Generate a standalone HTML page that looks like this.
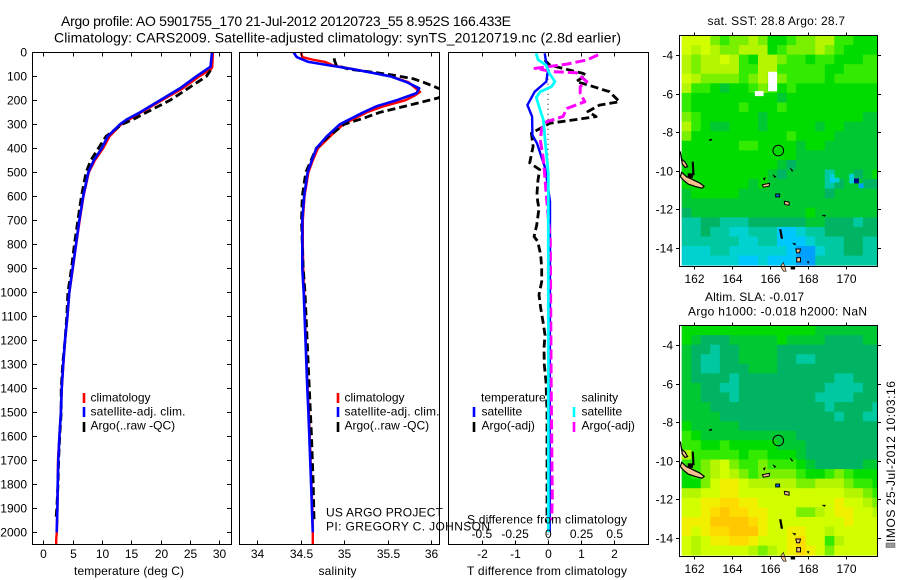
<!DOCTYPE html>
<html lang="en">
<head>
<meta charset="utf-8">
<title>Argo profile chart</title>
<style>
html,body{margin:0;padding:0;background:#fff;width:900px;height:580px;overflow:hidden}
svg{display:block}
text{font-family:"Liberation Sans",sans-serif;font-size:12px;fill:#000}
</style>
</head>
<body>
<svg id="chart" width="900" height="580" viewBox="0 0 900 580" xmlns="http://www.w3.org/2000/svg">
<defs>
<clipPath id="clip-t"><rect x="32.5" y="52.5" width="199" height="492"/></clipPath>
<clipPath id="clip-s"><rect x="239.5" y="52.5" width="200" height="492"/></clipPath>
<clipPath id="clip-d"><rect x="448.5" y="52.5" width="200" height="492"/></clipPath>
</defs>
<text x="61" y="26" style="font-size:14px" textLength="450">Argo profile: AO 5901755_170 21-Jul-2012 20120723_55 8.952S 166.433E</text>
<text x="54" y="42.5" style="font-size:14px" textLength="567">Climatology: CARS2009. Satellite-adjusted climatology: synTS_20120719.nc (2.8d earlier)</text>
<text x="707.5" y="25" textLength="137.5">sat. SST: 28.8 Argo: 28.7</text>
<text x="705" y="301" textLength="99">Altim. SLA: -0.017</text>
<text x="688" y="315.5" textLength="179">Argo h1000: -0.018 h2000: NaN</text>
<text transform="translate(895 542) rotate(-90)" textLength="161">IMOS 25-Jul-2012 10:03:16</text>
<rect x="886" y="543" width="9" height="4.5" fill="#999" stroke="#555" stroke-width="0.5"/>
<g id="maps"></g>
<g id="panels"></g>
<text x="74" y="575" textLength="110">temperature (deg C)</text>
<text x="318.5" y="575" textLength="38">salinity</text>
<text x="467" y="575" textLength="160">T difference from climatology</text>
<text x="467" y="523.5" textLength="160">S difference from climatology</text>
<text x="326" y="516.5" textLength="117">US ARGO PROJECT</text>
<text x="326" y="530.5" textLength="164">PI: GREGORY C. JOHNSON</text>
</svg>
<script>
// ---- profile data: depth in dbar ----
var depthTicks = [0,100,200,300,400,500,600,700,800,900,1000,1100,1200,1300,1400,1500,1600,1700,1800,1900,2000];
var tempTicks = [0,5,10,15,20,25,30];
var salTicks = [34,34.5,35,35.5,36];
var tDiffTicks = [-2,-1,0,1,2];
var sDiffTicks = [-0.5,-0.25,0,0.25,0.5];
var sDiffTickLabels = ['-0.5','-0.25','0','0.25','0.5'];

var tempClimDepth = [0,60,70,100,150,200,250,300,350,400,450,500,600,700,800,900,1000,1100,1200,1300,1400,1500,1600,1700,1800,1900,2000,2030,2050];
var tempClim = [28.9,28.8,28.6,26.6,23.8,20.2,16.7,13.3,11.3,10.2,8.8,7.75,6.85,6.2,5.6,5.05,4.45,4.12,3.72,3.42,3.15,3.0,2.75,2.5,2.45,2.4,2.3,2.2,2.2];
var tempSatDepth = [0,60,100,150,200,250,280,300,350,400,450,500,600,700,800,900,1000,1100,1200,1300,1400,1500,1600,1700,1800,1900,2000];
var tempSat = [28.75,28.5,26.1,23.3,19.9,16.5,14.2,13.07,11.0,9.95,8.6,7.67,6.8,6.14,5.57,5.0,4.43,4.1,3.7,3.4,3.13,3.0,2.75,2.55,2.45,2.4,2.28];
var tempArgoDepth = [75,100,150,200,250,280,300,350,400,450,500,600,700,800,900,1000,1100,1200,1300,1400,1500,1600,1700,1800,1900,1950];
var tempArgo = [28.5,27.8,24.7,21.6,17.6,15.3,13.4,10.7,9.4,8.1,7.3,6.5,5.9,5.3,4.8,4.2,4.0,3.7,3.3,3.05,3.05,2.8,2.6,2.5,2.3,2.15];

var salClimDepth = [0,20,30,40,55,70,100,125,150,165,180,200,225,250,300,350,400,450,500,600,700,800,900,1000,1400,1500,1600,1700,1800,1900,2000,2050];
var salClim = [34.505,34.52,34.63,34.78,34.875,35.1,35.53,35.74,35.82,35.87,35.81,35.7,35.45,35.26,34.99,34.84,34.7,34.64,34.59,34.545,34.525,34.525,34.53,34.54,34.58,34.595,34.605,34.615,34.625,34.635,34.64,34.64];
var salSatDepth = [0,20,40,55,70,100,125,150,170,200,225,250,300,350,400,450,500,600,700,800,900,1000,1400,1500,1600,1700,1800,1900,2000];
var salSat = [34.42,34.455,34.59,34.84,35.1,35.53,35.72,35.86,35.83,35.6,35.37,35.22,34.95,34.8,34.68,34.63,34.58,34.54,34.52,34.52,34.52,34.535,34.577,34.59,34.6,34.61,34.62,34.63,34.64];
var salArgoDepth = [25,35,55,70,85,95,110,125,150,165,190,220,250,275,300,350,400,450,500,600,700,800,900,1000,1400,1600,1800,1960];
var salArgo = [34.885,34.89,34.91,35.05,35.37,35.56,35.79,35.91,36.08,36.2,36.08,35.75,35.41,35.22,35.0,34.82,34.68,34.62,34.56,34.52,34.51,34.52,34.53,34.55,34.6,34.625,34.645,34.655];

var tDiffSatDepth = [4,46,74,122,164,220,268,345,379,435,476,532,622,782,2000];
var tDiffSat = [-0.1,-0.05,0,-0.05,-0.4,-0.62,-0.48,-0.47,-0.33,-0.2,-0.1,-0.03,0.06,0.06,0.05];
var tDiffArgoDepth = [32,53,67,88,95,122,136,164,206,220,247,268,282,296,337,392,461,489,532,587,622,650,720,768,788,844,899,955,1011,1066,1122,1178,1233,1302,1372,1500,1900,1960];
var tDiffArgo = [-0.1,0.05,0.45,1.05,1.15,0.85,1.2,1.85,2.15,1.55,1.2,1.45,0.75,0.05,-0.5,-0.45,-0.55,-0.25,-0.3,-0.33,-0.31,-0.27,-0.34,-0.42,-0.31,-0.22,-0.19,-0.19,-0.27,-0.22,-0.15,-0.09,-0.12,-0.11,-0.06,-0.03,-0.03,-0.03];
var sDiffSatDepth = [4,32,53,88,122,143,164,188,226,282,365,435,504,782,2000];
var sDiffSat = [-0.0925,-0.075,-0.018,0.008,0.05,0.025,-0.06,-0.09,-0.07,-0.037,-0.025,-0.012,0,0,0];
var sDiffArgoDepth = [11,32,49,67,81,85,122,143,171,206,234,268,289,317,365,435,491,615,782,1400,1860,1950];
var sDiffArgo = [0.375,0.29,0.14,-0.1,0.04,0.21,0.29,0.24,0.24,0.275,0.14,0.11,-0.012,-0.05,-0.06,-0.04,-0.03,-0.012,0.015,0.022,0.03,0.025];
var zeroLineDepth = [110,2050];

// ---- map data: colour levels per half-degree cell (north to south) ----
var mapLonTicks = [162,164,166,168,170];
var mapLatTicks = [-4,-6,-8,-10,-12,-14];
var floatPosition = [166.433,-8.952];
var sstLevels = [
[12,12,12,10,9,10,10,11,10,8,8,9,10,10,11,11,9,9,8,8,8],
[12,11,12,11,10,10,11,11,11,8,9,10,10,10,11,10,9,8,8,8,8],
[11,10,11,11,12,11,9,8,11,11,10,9,9,8,9,9,8,8,8,9,9],
[11,10,11,11,11,11,9,9,11,11,9,9,9,9,9,8,8,9,9,9,9],
[12,11,10,10,10,10,9,10,11,10,10,9,9,9,9,8,9,9,9,9,9],
[11,9,9,8,7,8,8,9,10,9,8,9,8,8,8,8,8,8,8,8,8],
[9,8,8,8,8,8,8,8,8,8,7,8,8,8,8,8,8,8,8,8,8],
[9,8,8,8,8,8,9,8,8,8,9,8,8,8,8,8,8,8,8,8,8],
[10,9,8,8,8,8,8,8,7,8,8,8,8,8,8,8,8,8,8,7,7],
[11,9,8,7,7,8,8,8,7,8,8,8,8,8,7,8,8,7,7,7,7],
[10,8,8,8,8,8,8,8,8,8,8,9,8,8,8,8,7,7,7,7,7],
[8,8,8,8,8,8,9,9,8,8,8,8,7,8,8,7,7,7,7,7,7],
[8,8,8,8,8,8,8,8,8,8,8,8,7,7,7,7,7,7,7,7,7],
[8,8,8,8,8,8,8,8,8,8,7,6,7,7,7,7,7,7,7,7,7],
[8,8,8,8,8,8,8,8,8,7,6,7,7,7,7,5,7,7,6,7,8],
[8,8,8,8,8,8,8,7,8,7,7,7,7,7,7,5,6,7,7,6,6],
[7,8,8,8,8,8,7,7,7,7,7,7,7,7,7,6,7,7,7,7,7],
[7,7,7,7,7,7,7,7,7,7,7,7,7,7,7,7,7,7,7,7,7],
[6,7,7,7,7,7,7,7,7,7,7,7,7,8,7,7,7,7,7,7,7],
[5,5,6,6,5,5,5,6,6,6,6,6,6,7,7,6,6,6,5,6,6],
[5,5,6,5,5,4,4,5,5,5,3,3,4,5,5,6,6,6,6,6,6],
[5,5,5,5,5,5,4,4,5,5,3,3,3,4,5,5,5,6,6,5,5],
[4,4,4,5,5,4,4,4,4,4,4,3,2,2,4,5,5,6,6,5,5],
[4,4,4,4,4,4,3,3,4,3,3,3,2,2,5,5,5,5,5,5,5]
];
var slaLevels = [
[8,8,8,8,8,8,8,8,8,8,8,8,8,8,7,7,7,7,7,7,7],
[8,7,6,6,6,7,7,7,7,7,8,7,7,7,7,6,6,6,6,7,7],
[7,6,6,5,6,6,7,7,7,7,6,6,6,6,6,6,6,6,6,6,6],
[7,6,5,5,6,6,7,7,7,7,6,6,5,5,6,6,6,6,6,6,6],
[7,6,5,5,6,6,6,7,7,7,6,6,6,6,6,6,6,6,6,6,6],
[7,6,6,6,6,5,6,6,6,6,6,6,6,6,6,6,5,5,6,6,6],
[7,7,6,6,5,5,6,6,6,6,6,6,6,6,6,5,5,5,5,6,6],
[7,7,6,6,6,5,6,6,6,6,6,6,6,6,5,5,5,5,6,6,6],
[7,7,7,6,6,6,6,6,6,6,6,6,6,6,6,5,6,6,6,6,5],
[7,7,7,7,6,6,6,6,6,6,6,6,6,6,6,6,5,6,6,5,5],
[8,7,7,7,7,7,6,6,6,6,6,6,6,6,6,6,6,6,6,6,6],
[9,8,7,7,7,7,7,7,7,7,7,7,6,6,6,6,6,6,6,6,6],
[9,9,8,8,9,8,8,8,8,8,7,7,7,6,6,6,6,6,6,6,6],
[11,9,9,9,9,9,8,9,9,8,8,8,7,6,6,6,6,6,6,6,6],
[9,9,10,11,12,10,9,9,10,9,9,9,8,7,6,6,6,6,6,7,7],
[8,9,10,11,12,11,10,9,10,10,10,10,9,8,8,9,10,9,8,8,8],
[8,8,10,12,13,13,12,11,11,11,11,11,10,10,11,11,11,10,9,9,8],
[11,11,12,12,13,13,12,12,12,12,12,12,12,12,12,12,12,11,11,10,9],
[12,12,13,13,14,14,13,13,12,12,12,12,12,12,12,12,13,12,12,11,10],
[12,12,13,14,15,14,14,13,13,12,12,12,10,10,11,12,13,13,12,12,11],
[13,13,13,15,15,15,15,14,13,12,12,12,12,12,12,12,12,13,12,12,12],
[13,12,13,14,14,15,15,15,13,12,12,13,13,12,12,11,12,12,12,12,12],
[12,11,12,13,13,14,14,13,12,12,12,13,14,12,12,9,11,12,12,12,12],
[12,11,12,12,12,12,12,11,10,11,12,13,14,13,12,10,12,12,12,12,12]
];
// individual quarter-degree anomalies in the SST field: lon, lat, level
var sstSpotLon = [170.15,170.15,170.4,170.65,169.14,169.14,169.38];
var sstSpotLat = [-10.15,-10.4,-10.4,-10.65,-10.36,-10.15,-10.36];
var sstSpotLevel = [4,4,0,2,3,4,4];
// quarter-degree cells with no SST: lon, lat
var sstMissingLon = [165.9,166.13,165.9,166.13,165.9,166.13,165.9,166.13,165.2,165.42];
var sstMissingLat = [-4.87,-4.87,-5.12,-5.12,-5.37,-5.37,-5.62,-5.62,-5.87,-5.87];

var palette = ['#000080','#0064ff','#00a0ff','#00c8ff','#00d2d2','#00c8a0','#00b464','#00c832','#00dc00','#32eb00','#78f000','#b4f500','#d2ff00','#f0f000','#ffdc00','#ffc800'];

var NS = 'http://www.w3.org/2000/svg';
function node(parent, tag, attrs) {
  var el = document.createElementNS(NS, tag);
  for (var k in attrs) el.setAttribute(k, attrs[k]);
  parent.appendChild(el);
  return el;
}
function label(parent, x, y, str, name, anchor) {
  var el = node(parent, 'text', {x: x, y: y, 'text-anchor': anchor || 'middle'});
  
  
  el.textContent = str;
  return el;
}
function tick(parent, x1, y1, x2, y2, name) {
  var el = node(parent, 'line', {x1: x1, y1: y1, x2: x2, y2: y2, stroke: '#000', 'stroke-width': 1});
  
  
  return el;
}
function legendBar(parent, x, y1, y2, color, name) {
  var el = node(parent, 'line', {x1: x, y1: y1, x2: x, y2: y2, stroke: color, 'stroke-width': 2.6});
  
  
  return el;
}
function yDepth(d) { return 52.3 + d * 0.24; }

var panels = document.getElementById('panels');
var top0 = 52.5, bot0 = 544.5;

function series(parent, xs, depths, vals, color, width, dash, clip, name) {
  var pts = [];
  for (var i = 0; i < vals.length; i++) pts.push(xs(vals[i]).toFixed(1) + ',' + yDepth(depths[i]).toFixed(1));
  var el = node(parent, 'polyline', {points: pts.join(' '), fill: 'none', stroke: color, 'stroke-width': width, 'clip-path': 'url(#' + clip + ')', 'stroke-linejoin': 'round'});
  if (dash) el.setAttribute('stroke-dasharray', dash);
  
  
  return el;
}
function frame(parent, x, w, name) {
  var el = node(parent, 'rect', {x: x, y: top0, width: w, height: bot0 - top0, fill: 'none', stroke: '#000', 'stroke-width': 1});
  
  
}

var xTemp = function (v) { return 43.3 + v * 5.867; };
var xSal = function (v) { return 257 + (v - 34) * 87.2; };
var xTd = function (v) { return 548 + v * 33.2; };
var xSd = function (v) { return 548.3 + v * 132.8; };

// temperature panel
var gT = node(panels, 'g', {});


series(gT, xTemp, tempClimDepth, tempClim, '#ff0000', 2.4, null, 'clip-t', 'temperature-climatology-line');
series(gT, xTemp, tempArgoDepth, tempArgo, '#000000', 2.8, '8 4', 'clip-t', 'temperature-argo-line');
series(gT, xTemp, tempSatDepth, tempSat, '#0000ff', 2.6, null, 'clip-t', 'temperature-satellite-line');
frame(gT, 32.5, 199, 'temperature-plot-frame');
depthTicks.forEach(function (d) {
  var y = Math.round(yDepth(d)) + 0.5;
  tick(gT, 32.5, y, 37, y, 'depth-tick-left');
  tick(gT, 227, y, 231.5, y, 'depth-tick-right');
  label(gT, 27, y + 4, String(d), 'depth-tick-label', 'end');
});
tempTicks.forEach(function (v) {
  var x = Math.round(xTemp(v)) + 0.5;
  tick(gT, x, top0, x, top0 + 4, 'temperature-tick-top');
  tick(gT, x, bot0, x, bot0 - 4, 'temperature-tick-bottom');
  label(gT, x, 558, String(v), 'temperature-tick-label');
});
legendBar(gT, 84, 393, 403, '#ff0000', 'legend-climatology-swatch');
legendBar(gT, 84, 407, 417, '#0000ff', 'legend-satellite-swatch');
legendBar(gT, 84, 422, 432, '#000000', 'legend-argo-swatch');
label(gT, 90.5, 401.5, 'climatology', 'legend-climatology-label', 'start');
label(gT, 90.5, 415.5, 'satellite-adj. clim.', 'legend-satellite-label', 'start').setAttribute('textLength', '95');
label(gT, 90.5, 429.5, 'Argo(..raw -QC)', 'legend-argo-label', 'start');

// salinity panel
var gS = node(panels, 'g', {});


series(gS, xSal, salClimDepth, salClim, '#ff0000', 2.4, null, 'clip-s', 'salinity-climatology-line');
series(gS, xSal, salArgoDepth, salArgo, '#000000', 2.8, '8 4', 'clip-s', 'salinity-argo-line');
series(gS, xSal, salSatDepth, salSat, '#0000ff', 2.6, null, 'clip-s', 'salinity-satellite-line');
frame(gS, 239.5, 200, 'salinity-plot-frame');
salTicks.forEach(function (v) {
  var x = Math.round(xSal(v)) + 0.5;
  tick(gS, x, top0, x, top0 + 4, 'salinity-tick-top');
  tick(gS, x, bot0, x, bot0 - 4, 'salinity-tick-bottom');
  label(gS, x, 558, String(v), 'salinity-tick-label');
});
legendBar(gS, 338, 393, 403, '#ff0000', 'legend-climatology-swatch');
legendBar(gS, 338, 407, 417, '#0000ff', 'legend-satellite-swatch');
legendBar(gS, 338, 422, 432, '#000000', 'legend-argo-swatch');
label(gS, 344.5, 401.5, 'climatology', 'legend-climatology-label', 'start');
label(gS, 344.5, 415.5, 'satellite-adj. clim.', 'legend-satellite-label', 'start').setAttribute('textLength', '95');
label(gS, 344.5, 429.5, 'Argo(..raw -QC)', 'legend-argo-label', 'start');

// difference panel
var gD = node(panels, 'g', {});


var zero = node(gD, 'line', {x1: xTd(0), y1: yDepth(zeroLineDepth[0]), x2: xTd(0), y2: yDepth(zeroLineDepth[1]), stroke: '#000', 'stroke-width': 1, 'stroke-dasharray': '1 4'});


series(gD, xTd, tDiffArgoDepth, tDiffArgo, '#000000', 2.8, '8 4', 'clip-d', 'temperature-argo-difference-line');
series(gD, xTd, tDiffSatDepth, tDiffSat, '#0000ff', 2.4, null, 'clip-d', 'temperature-satellite-difference-line');
series(gD, xSd, sDiffArgoDepth, sDiffArgo, '#ff00ff', 3, '10 4', 'clip-d', 'salinity-argo-difference-line');
series(gD, xSd, sDiffSatDepth, sDiffSat, '#00ffff', 2.8, null, 'clip-d', 'salinity-satellite-difference-line');
frame(gD, 448.5, 200, 'difference-plot-frame');
tDiffTicks.forEach(function (v) {
  var x = Math.round(xTd(v)) + 0.5;
  tick(gD, x, top0, x, top0 + 4, 'difference-tick-top');
  tick(gD, x, bot0, x, bot0 - 4, 'difference-tick-bottom');
  label(gD, x, 558, String(v), 't-difference-tick-label');
});
sDiffTicks.forEach(function (v, i) {
  label(gD, xSd(v), 538, sDiffTickLabels[i], 's-difference-tick-label');
});
legendBar(gD, 474, 407, 417, '#0000ff', 'legend-temperature-satellite-swatch');
legendBar(gD, 474, 422, 432, '#000000', 'legend-temperature-argo-swatch');
legendBar(gD, 574, 407, 417, '#00ffff', 'legend-salinity-satellite-swatch');
legendBar(gD, 574, 422, 432, '#ff00ff', 'legend-salinity-argo-swatch');
label(gD, 481, 401.5, 'temperature', 'legend-temperature-heading', 'start');
label(gD, 481.5, 415.5, 'satellite', 'legend-temperature-satellite-label', 'start');
label(gD, 481.5, 429.5, 'Argo(-adj)', 'legend-temperature-argo-label', 'start');
label(gD, 581.5, 401.5, 'salinity', 'legend-salinity-heading', 'start');
label(gD, 581.5, 415.5, 'satellite', 'legend-salinity-satellite-label', 'start');
label(gD, 581.5, 429.5, 'Argo(-adj)', 'legend-salinity-argo-label', 'start');

// maps
var maps = document.getElementById('maps');
var lonPx = 19.08, latPx = 19.3;
function drawMap(name, levels, yTop, yBottom, lat4y, labelY, extra) {
  var g = node(maps, 'g', {});
  
  
  var xLon = function (lon) { return 693.7 + (lon - 162) * lonPx; };
  var yLat = function (lat) { return lat4y + (-4 - lat) * latPx; };
  var x0 = xLon(161.37), dataBottom = yBottom - 1.3;
  var cw = 0.5 * lonPx, ch = (dataBottom - yTop) / levels.length;
  levels.forEach(function (row, r) {
    row.forEach(function (v, c) {
      var w = Math.min(cw + 0.4, 878 - (x0 + c * cw));
      var cell = node(g, 'rect', {x: (x0 + c * cw).toFixed(2), y: (yTop + r * ch).toFixed(2), width: w.toFixed(2), height: (ch + 0.4).toFixed(2), fill: palette[v]});
      
      
    });
  });
  if (extra) extra(g, xLon, yLat);
  // islands, coordinates in longitude/latitude
  islandShapes.forEach(function (s) {
    var pts = s.lon.map(function (lo, i) { return xLon(lo).toFixed(1) + ',' + yLat(s.lat[i]).toFixed(1); }).join(' ');
    var isl = node(g, 'polygon', {points: pts, fill: s.fill, stroke: '#000', 'stroke-width': s.sw});
    
    
  });
  var circle = node(g, 'circle', {cx: xLon(floatPosition[0]), cy: yLat(floatPosition[1]), r: 5.3, fill: 'none', stroke: '#000', 'stroke-width': 1});
  
  
  var fr = node(g, 'rect', {x: 679.5, y: yTop, width: 198, height: yBottom - yTop, fill: 'none', stroke: '#000', 'stroke-width': 1});
  
  
  mapLonTicks.forEach(function (lon) {
    var x = Math.round(xLon(lon)) + 0.5;
    tick(g, x, yTop - 3, x, yTop, 'map-longitude-tick-top');
    tick(g, x, yBottom, x, yBottom + 3, 'map-longitude-tick-bottom');
    label(g, x, labelY, String(lon), 'map-longitude-label');
  });
  mapLatTicks.forEach(function (lat) {
    var y = Math.round(yLat(lat)) + 0.5;
    tick(g, 676, y, 679.5, y, 'map-latitude-tick-left');
    tick(g, 877.5, y, 881, y, 'map-latitude-tick-right');
    label(g, 673, y + 4, String(lat), 'map-latitude-label', 'end');
  });
}
var islandShapes = [
  {lon:[161.37,161.62,161.98,162.33,162.55,162.43,162.08,161.71,161.45,161.3], lat:[-10.08,-10.3,-10.47,-10.64,-10.81,-10.9,-10.81,-10.69,-10.47,-10.3], fill:'#f5c08f', sw:1.2},
  {lon:[161.3,161.37,161.55,161.68,161.55,161.4], lat:[-9.0,-9.4,-9.55,-9.78,-9.83,-9.65], fill:'#f5c08f', sw:1.2},
  {lon:[161.92,161.98,162.02,161.96], lat:[-9.55,-9.55,-10.2,-10.2], fill:'#000', sw:1},
  {lon:[161.7,161.95,161.95,161.7], lat:[-10.15,-10.15,-10.35,-10.35], fill:'#000', sw:0.6},
  {lon:[162.8,162.95,162.9], lat:[-8.4,-8.35,-8.45], fill:'#000', sw:0.6},
  {lon:[165.6,165.98,165.95,165.65], lat:[-10.72,-10.65,-10.8,-10.85], fill:'#f5c08f', sw:1},
  {lon:[166.15,166.3,166.25], lat:[-10.2,-10.3,-10.35], fill:'#000', sw:0.6},
  {lon:[165.65,165.75,165.7], lat:[-10.4,-10.35,-10.48], fill:'#000', sw:0.6},
  {lon:[167.05,167.2,167.15], lat:[-9.85,-10.0,-10.02], fill:'#000', sw:0.6},
  {lon:[166.3,166.5,166.5,166.3], lat:[-11.2,-11.2,-11.35,-11.35], fill:'#0064ff', sw:1},
  {lon:[166.75,167.0,167.0,166.78], lat:[-11.58,-11.62,-11.78,-11.75], fill:'#f5c08f', sw:1},
  {lon:[166.5,166.58,166.66,166.58], lat:[-13.05,-13.05,-13.5,-13.5], fill:'#000', sw:0.8},
  {lon:[167.2,167.35,167.3], lat:[-13.75,-13.78,-13.85], fill:'#000', sw:0.6},
  {lon:[167.35,167.6,167.55,167.4], lat:[-14.05,-14.05,-14.25,-14.25], fill:'#f5c08f', sw:1},
  {lon:[167.4,167.6,167.6,167.4], lat:[-14.5,-14.5,-14.72,-14.72], fill:'#f5c08f', sw:1},
  {lon:[167.95,168.05,168.0], lat:[-14.7,-14.7,-14.78], fill:'#000', sw:0.6},
  {lon:[166.55,166.7,166.85,166.7], lat:[-14.95,-14.75,-15.2,-15.2], fill:'#f5c08f', sw:0.6},
  {lon:[167.1,167.3,167.3,167.1], lat:[-15.0,-15.0,-15.1,-15.1], fill:'#000', sw:0.6},
  {lon:[168.75,168.9,168.85], lat:[-12.3,-12.3,-12.37], fill:'#000', sw:0.6}
];
drawMap('sst-map', sstLevels, 35.5, 266.5, 55, 283, function (g, xLon, yLat) {
  sstSpotLon.forEach(function (lon, i) {
    var spot = node(g, 'rect', {x: xLon(lon).toFixed(1), y: yLat(sstSpotLat[i]).toFixed(1), width: 4.9, height: 4.9, fill: palette[sstSpotLevel[i]]});
    
    
  });
  sstMissingLon.forEach(function (lon, i) {
    var miss = node(g, 'rect', {x: xLon(lon).toFixed(1), y: yLat(sstMissingLat[i]).toFixed(1), width: 4.6, height: 5, fill: '#fff'});
    
    
  });
});
drawMap('sla-map', slaLevels, 325.5, 556.5, 345, 573, null);
</script>
</body>
</html>
